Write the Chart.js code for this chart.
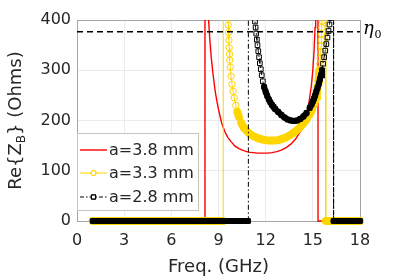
<!DOCTYPE html>
<html>
<head>
<meta charset="utf-8">
<script src="https://cdn.jsdelivr.net/npm/chart.js@4.4.0/dist/chart.umd.min.js"></script>
<style>
  html, body { margin: 0; padding: 0; background: #fff; }
</style>
</head>
<body>
<canvas id="chart" width="399" height="280"></canvas>
<script>
// axis ticks
const xTicks = [0, 3, 6, 9, 12, 15, 18];
const yTicks = [0, 100, 200, 300, 400];
const eta0 = 376.7;
const seriesLabels = ["a=3.8 mm", "a=3.3 mm", "a=2.8 mm"];

// a = 3.8 mm (5000 = off the top)
const redFreq = [1.0, 8.10, 8.14, 8.37, 8.45, 8.55, 8.65, 8.78, 8.9, 9.0, 9.2, 9.4, 9.6, 9.8, 10.05, 10.3, 10.6, 10.9, 11.2, 11.5, 11.8, 12.1, 12.4, 12.7, 13.0, 13.3, 13.6, 13.9, 14.2, 14.4, 14.6, 14.75, 14.9, 15.0, 15.08, 15.14, 15.18, 15.30, 15.33, 18.0];
const redZ = [0, 0, 5000, 400, 360, 322, 293, 260, 238, 222, 195, 178, 166, 158, 149, 144, 140, 137, 136, 135, 135, 135, 136, 138, 141, 146, 153, 163, 178, 192, 212, 235, 268, 300, 340, 385, 420, 5000, 0, 0];

// a = 3.3 mm
const yellowFreq = [1.0, 9.30, 9.35, 9.62, 9.64, 9.66, 9.68, 9.70, 9.72, 9.75, 9.80, 9.86, 9.93, 10.0, 10.1, 10.2, 10.3, 10.45, 10.6, 10.8, 11.0, 11.2, 11.4, 11.6, 11.8, 12.0, 12.2, 12.4, 12.6, 12.8, 13.0, 13.2, 13.4, 13.6, 13.8, 14.0, 14.2, 14.4, 14.6, 14.8, 14.94, 15.08, 15.15, 15.21, 15.26, 15.30, 15.35, 15.39, 15.42, 15.45, 15.48, 15.50, 15.52, 15.54, 15.56, 15.58, 15.60, 15.62, 15.80, 15.82, 18.0];
const yellowZ = [0, 0, 5000, 390, 375, 360, 345, 332, 320, 306, 288, 272, 258, 245, 230, 217, 207, 195, 186, 179, 173, 169, 166, 164, 162, 161, 160, 160, 160, 161, 163, 165, 168, 172, 176, 181, 187, 194, 202, 212, 221, 232, 240, 249, 258, 268, 280, 290, 300, 312, 324, 336, 348, 360, 372, 385, 398, 430, 5000, 0, 0];

// a = 2.8 mm
const blackFreq = [1.0, 10.88, 10.90, 11.32, 11.36, 11.40, 11.44, 11.48, 11.53, 11.58, 11.63, 11.69, 11.75, 11.82, 11.9, 12.0, 12.1, 12.2, 12.3, 12.4, 12.5, 12.6, 12.8, 13.0, 13.2, 13.4, 13.6, 13.8, 14.0, 14.2, 14.4, 14.6, 14.8, 14.92, 15.0, 15.08, 15.15, 15.22, 15.3, 15.38, 15.45, 15.52, 15.58, 15.65, 15.72, 15.79, 15.86, 15.93, 16.0, 16.06, 16.11, 16.15, 16.30, 16.32, 18.0];
const blackZ = [0, 0, 5000, 397, 385, 373, 361, 350, 338, 326, 314, 302, 290, 278, 267, 257, 249, 242, 236, 231, 227, 223, 217, 211, 206, 202, 200, 199, 200, 203, 208, 215, 225, 232, 238, 244, 250, 257, 265, 273, 282, 290, 300, 313, 326, 339, 352, 365, 378, 391, 404, 415, 5000, 0, 0];

const FONT = "'DejaVu Sans', sans-serif";
const TEXT = "#262626";
const RED = "#ff0000";
const YELLOW = "#ffd500";
const BLACK = "#000000";

const toPoints = (f, z) => f.map((v, i) => ({ x: v, y: z[i] }));

// dense matlab markers merge into a solid band where points sit close together
const isBand = (ctx) => {
  const bottom = ctx.chart.chartArea.bottom;
  const onZero = Math.abs(ctx.p0.y - bottom) < 0.5 && Math.abs(ctx.p1.y - bottom) < 0.5;
  const close = Math.hypot(ctx.p1.x - ctx.p0.x, ctx.p1.y - ctx.p0.y) < 5.3;
  return onZero || close;
};

const clipBox = { left: 5, top: 0, right: 5, bottom: 5 };

const bandSet = (label, data, color, width) => ({
  label: label + " band",
  data,
  borderColor: color,
  borderWidth: width,
  borderCapStyle: "round",
  pointRadius: 0,
  segment: { borderColor: (ctx) => (isBand(ctx) ? color : "rgba(0,0,0,0)") },
  clip: clipBox,
});

const blackPts = toPoints(blackFreq, blackZ);
const yellowPts = toPoints(yellowFreq, yellowZ);
const redPts = toPoints(redFreq, redZ);

const datasets = [
  {
    label: "eta0",
    data: [{ x: 0, y: eta0 }, { x: 18, y: eta0 }],
    borderColor: BLACK,
    borderWidth: 1.5,
    borderDash: [6, 4],
    pointRadius: 0,
    clip: 0,
  },
  {
    label: seriesLabels[2],
    data: blackPts,
    borderColor: BLACK,
    borderWidth: 1,
    pointStyle: "rect",
    pointRadius: 3.3,
    pointBorderWidth: 1,
    pointBorderColor: BLACK,
    pointBackgroundColor: "rgba(255,255,255,0)",
    segment: {
      borderDash: (ctx) => (isBand(ctx) ? [] : [5, 2.5, 1.5, 2.5]),
    },
    clip: clipBox,
  },
  bandSet(seriesLabels[2], blackPts, BLACK, 6),
  {
    label: seriesLabels[1],
    data: yellowPts,
    borderColor: YELLOW,
    borderWidth: 1,
    pointStyle: "circle",
    pointRadius: 3.2,
    pointBorderWidth: 1,
    pointBorderColor: YELLOW,
    pointBackgroundColor: "rgba(255,255,255,0)",
    clip: clipBox,
  },
  bandSet(seriesLabels[1], yellowPts, YELLOW, 8),
  {
    label: seriesLabels[0],
    data: redPts,
    borderColor: RED,
    borderWidth: 1.4,
    pointRadius: 0,
    clip: clipBox,
  },
];

// legend, axis box, eta label and axis titles
const decor = {
  id: "decor",
  beforeDraw(chart) {
    const ctx = chart.ctx;
    ctx.save();
    ctx.fillStyle = "#fff";
    ctx.fillRect(0, 0, chart.width, chart.height);
    ctx.restore();
  },
  beforeDatasetsDraw(chart) {
    const { ctx, chartArea: a } = chart;
    ctx.save();
    ctx.strokeStyle = "#a6a6a6";
    ctx.lineWidth = 1;
    ctx.strokeRect(a.left + 0.5, a.top + 0.5, a.right - a.left, a.bottom - a.top);
    ctx.restore();
  },
  afterDraw(chart) {
    const { ctx, chartArea: a } = chart;
    ctx.save();

    // legend
    const lx = a.left + 0.5, ly = 133.5, lw = 121, lh = 77;
    ctx.fillStyle = "#fff";
    ctx.fillRect(lx, ly, lw, lh);
    ctx.strokeStyle = "#c4c4c4";
    ctx.lineWidth = 1;
    ctx.strokeRect(lx, ly, lw, lh);
    const rows = [
      { ds: datasets[5], y: 150, dash: [], marker: null },
      { ds: datasets[3], y: 173, dash: [], marker: "circle" },
      { ds: datasets[1], y: 197, dash: [4, 2, 1.5, 2], marker: "rect" },
    ];
    rows.forEach((r) => {
      ctx.strokeStyle = r.ds.borderColor;
      ctx.lineWidth = r.marker ? 1 : 1.4;
      ctx.setLineDash(r.dash);
      ctx.beginPath();
      ctx.moveTo(80, r.y);
      ctx.lineTo(107, r.y);
      ctx.stroke();
      ctx.setLineDash([]);
      if (r.marker) {
        ctx.fillStyle = "#fff";
        Chart.helpers.drawPoint(ctx, { pointStyle: r.marker, radius: r.marker === "rect" ? 3 : 2.6, borderWidth: 1 }, 93.5, r.y);
        ctx.stroke();
      }
      ctx.fillStyle = TEXT;
      ctx.font = "16px " + FONT;
      ctx.textBaseline = "middle";
      ctx.textAlign = "left";
      ctx.fillText(r.ds.label, 109, r.y + 1);
    });

    // eta0 label
    ctx.fillStyle = BLACK;
    ctx.textBaseline = "alphabetic";
    ctx.font = "italic 18px 'DejaVu Serif', serif";
    ctx.fillText("\u03b7", 363, 33.5);
    ctx.font = "11px 'DejaVu Serif', serif";
    ctx.fillText("0", 374.5, 38);

    // x title
    ctx.fillStyle = TEXT;
    ctx.font = "18px " + FONT;
    ctx.textAlign = "center";
    ctx.fillText("Freq. (GHz)", (a.left + a.right) / 2, 272);

    // y title with subscript
    ctx.translate(21, (a.top + a.bottom) / 2);
    ctx.rotate(-Math.PI / 2);
    ctx.textAlign = "left";
    const big = "18px " + FONT, small = "12px " + FONT;
    const parts = [["Re{Z", big, 0], ["B", small, 4], ["} (Ohms)", big, 0]];
    let total = 0;
    parts.forEach((p) => { ctx.font = p[1]; total += ctx.measureText(p[0]).width; });
    let x = -total / 2;
    parts.forEach((p) => {
      ctx.font = p[1];
      ctx.fillText(p[0], x, p[2]);
      x += ctx.measureText(p[0]).width;
    });
    ctx.restore();
  },
};

new Chart(document.getElementById("chart").getContext("2d"), {
  type: "line",
  data: { datasets },
  options: {
    responsive: false,
    animation: false,
    events: [],
    layout: { padding: { top: 20, right: 39, left: 0, bottom: 0 } },
    plugins: { legend: { display: false }, tooltip: { enabled: false } },
    scales: {
      x: {
        type: "linear",
        min: 0,
        max: 18,
        afterBuildTicks: (s) => { s.ticks = xTicks.map((v) => ({ value: v })); },
        afterFit: (s) => { s.height = 59; },
        grid: { color: "#ebebeb", drawTicks: false },
        border: { display: false },
        ticks: { color: TEXT, font: { family: FONT, size: 16 }, padding: 10 },
      },
      y: {
        min: 0,
        max: 400,
        afterBuildTicks: (s) => { s.ticks = yTicks.map((v) => ({ value: v })); },
        afterFit: (s) => { s.width = 77; },
        grid: { color: "#ebebeb", drawTicks: false },
        border: { display: false },
        ticks: { color: TEXT, font: { family: FONT, size: 16 }, padding: 6 },
      },
    },
  },
  plugins: [decor],
});
</script>
</body>
</html>
